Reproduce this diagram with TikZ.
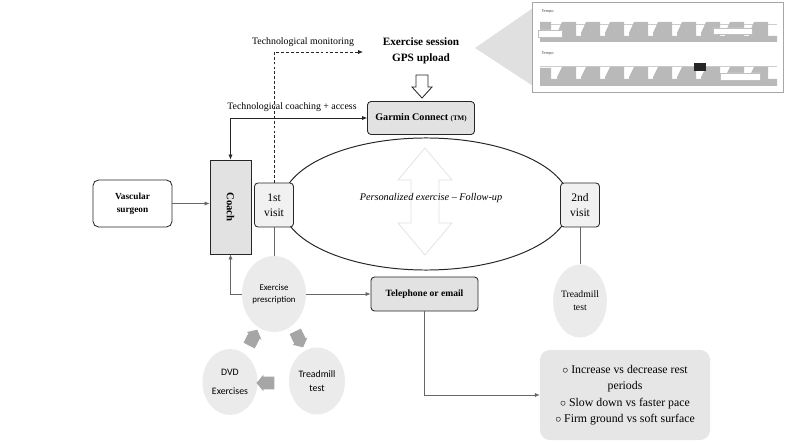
\documentclass[tikz,border=0pt]{standalone}
\usepackage{fontspec}
\setmainfont{Liberation Serif}
\newfontfamily\calfont{Carlito}
\usetikzlibrary{positioning, shapes.geometric, shapes.arrows, arrows.meta}
\definecolor{boxgray}{HTML}{E2E2E2}
\definecolor{bubblegray}{HTML}{EBEBEB}
\definecolor{chevgray}{HTML}{A6A6A6}

\begin{document}
\begin{tikzpicture}[x=0.025cm, y=-0.025cm, >={Latex[length=3.5pt,width=3pt]},
        % Styles
        basebox/.style={
            draw=black!85,
            line width=0.6pt,
            rounded corners=2.5pt,
            align=center,
            inner sep=1pt
        },
        graybox/.style={basebox, fill=boxgray, font=\bfseries\fontsize{7.2}{8.5}\selectfont},
        visitbox/.style={basebox, fill=bubblegray!70, minimum width=0.975cm, minimum height=1.1cm,
            font=\fontsize{8.2}{10.7}\selectfont},
        bubble/.style={ellipse, fill=bubblegray, inner sep=0pt, align=center},
        chevron/.style={single arrow, fill=chevgray, minimum height=0.4cm, inner sep=0.15cm,
            single arrow head extend=0.05cm, single arrow tip angle=100},
        link/.style={black!60, line width=0.5pt},
        small/.style={font=\fontsize{7}{8}\selectfont}
    ]
        \useasboundingbox (0,0) rectangle (800,445);

        % Background shapes
        \draw[black!12, line width=0.5pt] (425,148) -- (452,180) -- (439,180) -- (439,223) -- (452,223)
            -- (425,255) -- (398,223) -- (411,223) -- (411,180) -- (398,180) -- cycle;
        \fill[black!12] (475,48) -- (533,8) -- (533,86) -- cycle;

        % Nodes
        \node[draw=black!85, line width=0.7pt, ellipse, minimum width=7.2cm, minimum height=3.3cm,
            inner sep=0pt] (loop) at (426,204) {};
        \node[font=\itshape\fontsize{7.3}{9}\selectfont] (follow) at (431,198) {Personalized exercise -- Follow-up};
        \node[graybox, minimum width=2.675cm, minimum height=0.825cm] (garmin) at (421,118)
            {Garmin Connect {\fontsize{5}{6}\selectfont (TM)}};
        \node[font=\bfseries\fontsize{8}{11.4}\selectfont, align=center] (gps) at (421,51)
            {Exercise session\\GPS upload};
        \node[basebox, fill=boxgray, rounded corners=0pt, minimum width=1.025cm, minimum height=2.35cm,
            font=\bfseries\fontsize{7.6}{9}\selectfont] (coach) at (230.5,207) {\rotatebox{-90}{Coach}};
        \node[basebox, rounded corners=4pt, minimum width=1.975cm, minimum height=1.175cm,
            font=\bfseries\fontsize{6.6}{9.3}\selectfont] (surgeon) at (132.5,203.5) {Vascular\\surgeon};
        \node[visitbox] (visit1) at (274,205) {1st\\visit};
        \node[visitbox] (visit2) at (580,205) {2nd\\visit};
        \node[bubble, minimum width=1.6cm, minimum height=1.9cm,
            font=\calfont\fontsize{6.3}{8.5}\selectfont] (prescr) at (274,294) {Exercise\\prescription};
        \node[bubble, minimum width=1.4cm, minimum height=1.675cm,
            font=\calfont\fontsize{7}{9.5}\selectfont] (tread1) at (317,381) {Treadmill\\test};
        \node[bubble, minimum width=1.375cm, minimum height=1.65cm,
            font=\calfont\fontsize{7}{13}\selectfont] (dvd) at (230,382) {DVD\\Exercises};
        \node[bubble, minimum width=1.325cm, minimum height=1.825cm,
            font=\fontsize{6.9}{9}\selectfont] (tread2) at (580,301) {Treadmill\\test};
        \node[graybox, minimum width=2.675cm, minimum height=0.85cm,
            font=\bfseries\fontsize{6.8}{8}\selectfont] (phone) at (424.5,294) {Telephone or email};
        \node[fill=boxgray!85, rounded corners=7pt, minimum width=4.25cm, minimum height=2.25cm,
            align=center, font=\fontsize{8.4}{11.7}\selectfont] (tips) at (625,395)
            {$\circ$ Increase vs decrease rest\\periods\\$\circ$ Slow down vs faster pace\\
             $\circ$ Firm ground vs soft surface};
        \node[small] (monit) at (303,42) {Technological monitoring};
        \node[small] (coaching) at (292,107) {Technological coaching + access};
        \coordinate (gpsin) at (363,52);

        % Cycle arrows
        \node[chevron, rotate=63] (chevA) at (252,340) {};
        \node[chevron, rotate=-64] (chevB) at (298,337) {};
        \node[chevron, rotate=180] (chevC) at (268,383) {};

        % Upload arrow
        \draw[black!85, line width=0.6pt, fill=white] (416,75) -- (428,75) -- (428,87) -- (432,87)
            -- (422,98) -- (412,87) -- (416,87) -- cycle;

        % Screenshot
        \node[draw=black!35, line width=0.7pt, fill=white, minimum width=6.25cm, minimum height=2.225cm,
            inner sep=0pt] (shot) at (658,47.5) {};
        \node[font=\calfont\fontsize{3}{3}\selectfont, anchor=west, black!70] (tempoA) at (537,11) {Tempo};
        \node[font=\calfont\fontsize{3}{3}\selectfont, anchor=west, black!70] (tempoB) at (537,53) {Tempo};
        \draw[black!20, line width=0.3pt] (540,24) -- (777,24) (540,66) -- (777,66);
        \fill[gray!55] (540,36) rectangle (777,42) (540,79) rectangle (777,86);
        \fill[gray!55] (540,22) rectangle (551,42) (540,68) rectangle (551,86);
        \foreach \i in {0,...,8} {
            \fill[gray!55] ({557+24*\i},42) -- ({557+24*\i},33) -- ({562+24*\i},22) -- ({576+24*\i},22)
                -- ({576+24*\i},42) -- cycle;
            \fill[gray!55] ({557+24*\i},86) -- ({557+24*\i},77) -- ({562+24*\i},67) -- ({576+24*\i},67)
                -- ({576+24*\i},86) -- cycle;
        }
        \filldraw[fill=white, draw=black!25, line width=0.2pt] (713,28) rectangle (752,34)
            (720,73) rectangle (760,80) (538,30) rectangle (562,37);
        \fill[black!85] (694,63) rectangle (706,71);

        % Lines
        \draw[->, link] (surgeon.east) -- (surgeon.east -| coach.west);
        \draw[<->, black!85, line width=0.5pt] (coach.north) |- (garmin.west);
        \draw[->, black!85, line width=0.5pt, dash pattern=on 2pt off 1.5pt] (visit1.north) |- (gpsin);
        \draw[link] (visit1) -- (prescr);
        \draw[->, link] (prescr.west) -| (coach.south);
        \draw[->, link] (prescr.east) -- (phone.west);
        \draw[->, link] (phone.south) |- (tips.west);
        \draw[link] (visit2) -- (tread2);

    \end{tikzpicture}
\end{document}
